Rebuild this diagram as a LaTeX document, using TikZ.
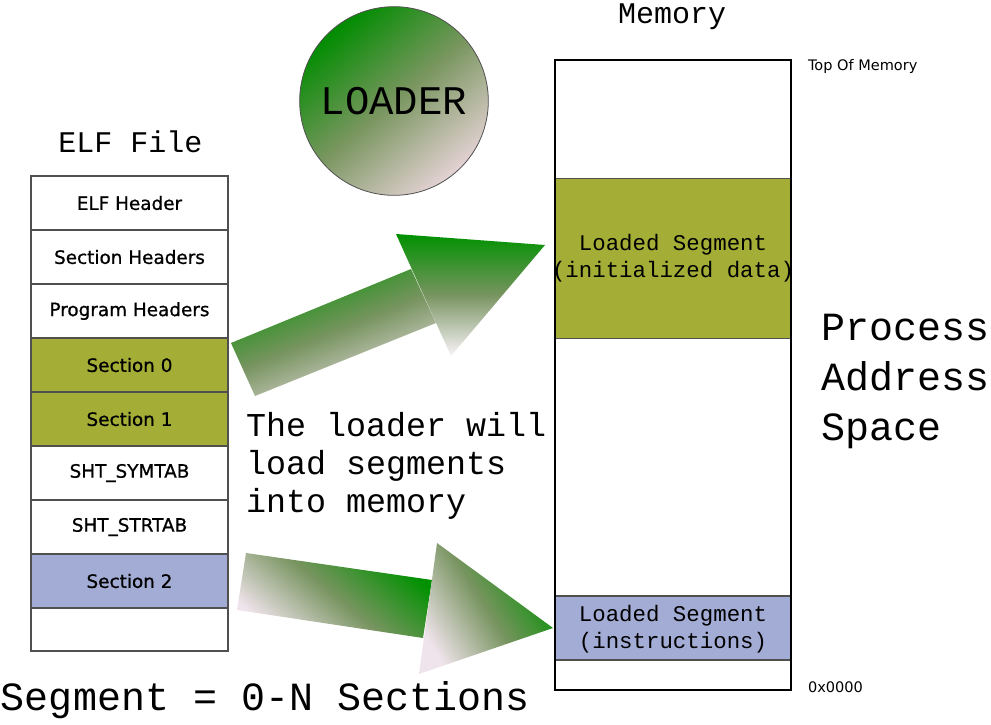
\documentclass[tikz,border=0pt]{standalone}
\usepackage{fontspec}
\usetikzlibrary{shapes.geometric}
\setmainfont{DejaVu Sans}
\newfontfamily\monof{Liberation Mono}
\newfontfamily\sansf[FakeBold=0.8]{DejaVu Sans}
\newfontfamily\smallsans{DejaVu Sans}
\definecolor{segolive}{RGB}{164,174,54}
\definecolor{segblue}{RGB}{163,172,212}
\definecolor{boxgray}{RGB}{80,80,80}
\definecolor{gradgreen}{RGB}{0,145,0}
\definecolor{gradmid}{RGB}{120,148,96}
\definecolor{gradend}{RGB}{240,228,236}
\definecolor{headend}{RGB}{250,244,250}
\definecolor{circgreen}{RGB}{0,140,0}
\definecolor{circmid}{RGB}{122,150,96}
\definecolor{circend}{RGB}{228,210,212}
\begin{document}
\begin{tikzpicture}[x=0.75pt,y=-0.75pt,
  elfbox/.style={draw=boxgray, line width=1.1pt, minimum width=147.75pt, minimum height=40.5pt,
    inner sep=0pt, outer sep=0pt, font=\sansf\fontsize{13.8}{16}\selectfont},
  segbox/.style={draw=boxgray, line width=1.3pt, minimum width=177pt, inner sep=0pt, outer sep=0pt},
  segtext/.style={inner sep=0pt, outer sep=0pt, align=center, font=\monof\fontsize{16.8}{20.25}\selectfont},
  monotext/.style={inner sep=0pt, outer sep=0pt, font=\monof#1},
  smalltext/.style={inner sep=0pt, outer sep=0pt, font=\smallsans\fontsize{10.9}{12}\selectfont},
  arrowshade/.style={top color=gradgreen, bottom color=gradend, middle color=gradmid},
  headshade/.style={top color=gradgreen, bottom color=headend, middle color=gradmid}
]
\useasboundingbox (0,0) rectangle (991,724);

% ELF file
\node[monotext=\fontsize{22.5}{27}\selectfont, anchor=base] (elftitle) at (130.5,152) {ELF File};
\node[elfbox, fill=white] (elfhdr) at (129.5,203) {ELF Header};
\node[elfbox, fill=white] (sechdr) at (129.5,257) {Section Headers};
\node[elfbox, fill=white] (proghdr) at (129.5,311) {Program Headers};
\node[elfbox, fill=segolive] (sec0) at (129.5,365) {Section 0};
\node[elfbox, fill=segolive] (sec1) at (129.5,419) {Section 1};
\node[elfbox, fill=white] (symtab) at (129.5,473) {SHT\_SYMTAB};
\node[elfbox, fill=white] (strtab) at (129.5,527) {SHT\_STRTAB};
\node[elfbox, fill=segblue] (sec2) at (129.5,581) {Section 2};
\node[elfbox, fill=white, minimum height=32.25pt] (elfend) at (129.5,629.5) {};

% Loader
\node[circle, draw=boxgray, line width=0.6pt, minimum size=141.5pt, inner sep=0pt,
  top color=circgreen, bottom color=circend, middle color=circmid,
  shading angle=40] (loader) at (394,101) {};
\node[monotext=\fontsize{30.5}{34}\selectfont] (loadertext) at (loader.center) {LOADER};

% Memory
\node[monotext=\fontsize{22.5}{27}\selectfont, anchor=base] (memtitle) at (672,23.5) {Memory};
\node[minimum width=177pt, minimum height=472.5pt, fill=white, inner sep=0pt, outer sep=0pt] (membg) at (673,375) {};
\node[segbox, fill=segolive, minimum height=120pt] (seg1) at (673,258.5) {};
\node[segbox, fill=segblue, minimum height=48pt] (seg2) at (673,628) {};
\node[segtext, anchor=base] (seg1text) at (673,277) {Loaded Segment\\(initialized data)};
\node[segtext, anchor=base] (seg2text) at (673,648) {Loaded Segment\\(instructions)};
\node[draw=black, line width=1.6pt, minimum width=177pt, minimum height=472.5pt, inner sep=0pt, outer sep=0pt] (mem) at (673,375) {};
\node[smalltext, anchor=base west] (topmem) at (808,70) {Top Of Memory};
\node[smalltext, anchor=base west] (zeroaddr) at (808,692) {0x0000};

% Process address space
\node[monotext=\fontsize{30}{37.5}\selectfont, anchor=base west, align=left] (pas) at (821,440)
  {Process\\Address\\Space};

% Loader text
\node[monotext=\fontsize{25}{28.5}\selectfont, anchor=base west, align=left] (loadtext) at (246,512)
  {The loader will\\load segments\\into memory};

\node[monotext=\fontsize{30}{34}\selectfont, anchor=base west] (segeq) at (1,710) {Segment = 0-N Sections};

% Upper arrow
\shade[arrowshade, shading angle=22] (231,343) -- (411,269) -- (436,323) -- (255,396) -- cycle;
\shade[headshade] (396,234) -- (545,245) -- (451,356) -- cycle;

% Lower arrow
\shade[arrowshade, shading angle=-40] (246,553) -- (432,580) -- (423,638) -- (237,610) -- cycle;
\shade[arrowshade, shading angle=-58] (437,543) -- (553,628) -- (419,674) -- cycle;
\end{tikzpicture}
\end{document}
